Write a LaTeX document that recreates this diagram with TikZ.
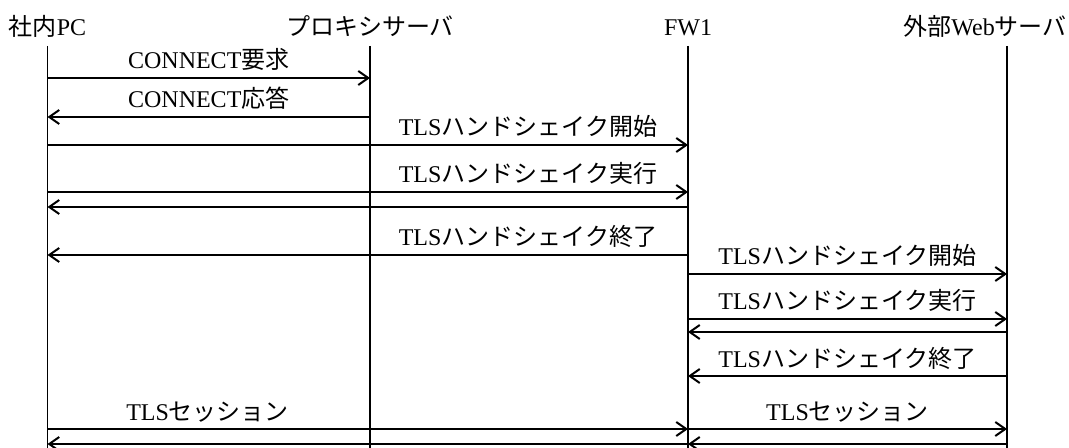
\documentclass[tikz,border=0pt]{standalone}
\usepackage{fontspec}
\setmainfont{Liberation Serif}
\newfontfamily\jp{Noto Sans CJK JP}
\newcommand{\ja}[1]{{\jp #1}}
\usetikzlibrary{arrows.meta}

\begin{document}
\begin{tikzpicture} [x=0.5pt, y=-0.5pt, font=\fontsize{12pt}{14pt}\selectfont, head/.style={anchor=base, inner sep=0pt}, life/.style={line width=0.7pt}, msg/.style={line width=1pt, -{Straight Barb[length=5pt,width=7pt]}}, lbl/.style={anchor=base, inner sep=0pt, yshift=4.5pt}]
  \useasboundingbox (0,0) rectangle (1069,448);
  % Lifelines
  \coordinate (pcTop) at (47.5,46);
  \coordinate (proxyTop) at (370,46);
  \coordinate (fwTop) at (688,46);
  \coordinate (webTop) at (1007,46);
  \coordinate (bottom) at (0,448);
  \node [head] (pc) at (47.5,36) {\ja{社内}PC};
  \node [head] (proxy) at (370,36) {\ja{プロキシサーバ}};
  \node [head] (fw) at (688,36) {FW1};
  \node [head, anchor=base east] (web) at (1067,36) {\ja{外部}Web\ja{サーバ}};
  \draw [life] (pcTop) -- (pcTop |- bottom);
  \draw [life] (proxyTop) -- (proxyTop |- bottom);
  \draw [life] (fwTop) -- (fwTop |- bottom);
  \draw [life] (webTop) -- (webTop |- bottom);
  % Message rows
  \coordinate (r1) at (0,78);
  \coordinate (r2) at (0,117);
  \coordinate (r3) at (0,145);
  \coordinate (r4) at (0,192);
  \coordinate (r5) at (0,207);
  \coordinate (r6) at (0,255);
  \coordinate (r7) at (0,274);
  \coordinate (r8) at (0,319);
  \coordinate (r9) at (0,332);
  \coordinate (r10) at (0,376);
  \coordinate (r11) at (0,429);
  \coordinate (r12) at (0,444);
  % Proxy connection
  \draw [msg] (pcTop |- r1) -- node[lbl] (connReq) {CONNECT\ja{要求}} (proxyTop |- r1);
  \draw [msg] (proxyTop |- r2) -- node[lbl] (connRes) {CONNECT\ja{応答}} (pcTop |- r2);
  % Handshake PC - FW1
  \draw [msg] (pcTop |- r3) -- node[lbl, pos=0.75] (hsStartA) {TLS\ja{ハンドシェイク開始}} (fwTop |- r3);
  \draw [msg] (pcTop |- r4) -- node[lbl, pos=0.75] (hsRunA) {TLS\ja{ハンドシェイク実行}} (fwTop |- r4);
  \draw [msg] (fwTop |- r5) -- (pcTop |- r5);
  \draw [msg] (fwTop |- r6) -- node[lbl, pos=0.25] (hsEndA) {TLS\ja{ハンドシェイク終了}} (pcTop |- r6);
  % Handshake FW1 - Web server
  \draw [msg] (fwTop |- r7) -- node[lbl] (hsStartB) {TLS\ja{ハンドシェイク開始}} (webTop |- r7);
  \draw [msg] (fwTop |- r8) -- node[lbl] (hsRunB) {TLS\ja{ハンドシェイク実行}} (webTop |- r8);
  \draw [msg] (webTop |- r9) -- (fwTop |- r9);
  \draw [msg] (webTop |- r10) -- node[lbl] (hsEndB) {TLS\ja{ハンドシェイク終了}} (fwTop |- r10);
  % Sessions
  \draw [msg] (pcTop |- r11) -- node[lbl, pos=0.25] (sessA) {TLS\ja{セッション}} (fwTop |- r11);
  \draw [msg] (fwTop |- r11) -- node[lbl] (sessB) {TLS\ja{セッション}} (webTop |- r11);
  \draw [msg] (fwTop |- r12) -- (pcTop |- r12);
  \draw [msg] (webTop |- r12) -- (fwTop |- r12);
\end{tikzpicture}
\end{document}
